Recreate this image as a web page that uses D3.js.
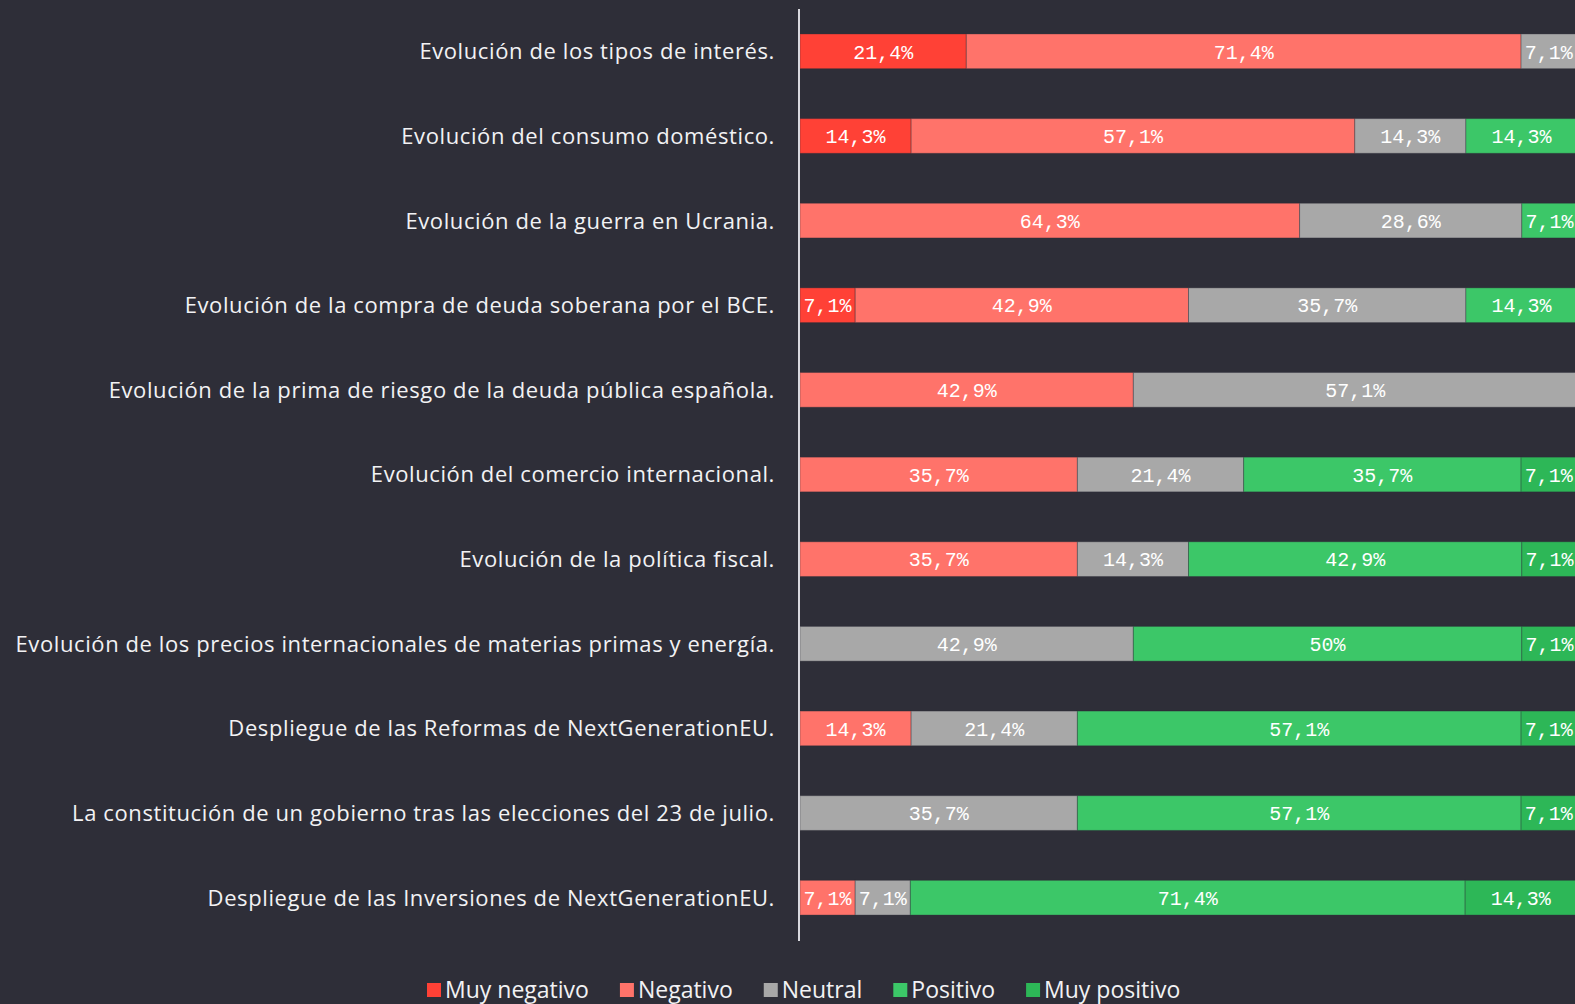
<!DOCTYPE html>
<html lang="es">
<head>
  <meta charset="UTF-8">
  <title>Factores</title>
  <script src="https://d3js.org/d3.v7.min.js"></script>
  <style>
    html, body { margin: 0; padding: 0; background: #2e2e38; overflow: hidden; }
    svg { display: block; }
    .cat { font-family: "Open Sans", sans-serif; font-size: 22px; letter-spacing: 0.6px; fill: #f2f2f4; }
    .val { font-family: "Liberation Mono", monospace; font-size: 20px; fill: #ffffff; }
    .leg { font-family: "Open Sans", sans-serif; font-size: 23px; fill: #f2f2f4; }
  </style>
</head>
<body>
<div id="chart"></div>
<script>
  // categorias y series (% de respuestas)
  var categories = [
    "Evolución de los tipos de interés.",
    "Evolución del consumo doméstico.",
    "Evolución de la guerra en Ucrania.",
    "Evolución de la compra de deuda soberana por el BCE.",
    "Evolución de la prima de riesgo de la deuda pública española.",
    "Evolución del comercio internacional.",
    "Evolución de la política fiscal.",
    "Evolución de los precios internacionales de materias primas y energía.",
    "Despliegue de las Reformas de NextGenerationEU.",
    "La constitución de un gobierno tras las elecciones del 23 de julio.",
    "Despliegue de las Inversiones de NextGenerationEU."
  ];
  var seriesNames = ["Muy negativo", "Negativo", "Neutral", "Positivo", "Muy positivo"];
  var muyNegativo = [21.4, 14.3, 0, 7.1, 0, 0, 0, 0, 0, 0, 0];
  var negativo    = [71.4, 57.1, 64.3, 42.9, 42.9, 35.7, 35.7, 0, 14.3, 0, 7.1];
  var neutral     = [7.1, 14.3, 28.6, 35.7, 57.1, 21.4, 14.3, 42.9, 21.4, 35.7, 7.1];
  var positivo    = [0, 14.3, 7.1, 14.3, 0, 35.7, 42.9, 50, 57.1, 57.1, 71.4];
  var muyPositivo = [0, 0, 0, 0, 0, 7.1, 7.1, 7.1, 7.1, 7.1, 14.3];
  var colors = ["#ff4136", "#ff736a", "#a8a8a8", "#3cc768", "#2db757"];

  var W = 1575, H = 1004;
  var x0 = 800, x1 = 1577;

  var svg = d3.select("#chart").append("svg")
    .attr("width", W)
    .attr("height", H);

  var rows = categories.map(function (c, i) {
    return { cat: c, muyNegativo: muyNegativo[i], negativo: negativo[i], neutral: neutral[i], positivo: positivo[i], muyPositivo: muyPositivo[i] };
  });
  var keys = ["muyNegativo", "negativo", "neutral", "positivo", "muyPositivo"];
  var stacked = d3.stack().keys(keys)(rows);

  var x = d3.scaleLinear().domain([0, 100]).range([x0, x1]);
  var y = d3.scaleBand().domain(categories).range([9, 940]).paddingInner(0.59).paddingOuter(0.295);
  var color = d3.scaleOrdinal().domain(keys).range(colors);

  // barras
  var layers = svg.selectAll("g.layer")
    .data(stacked)
    .enter().append("g")
    .attr("class", "layer")
    .attr("fill", d => color(d.key));

  layers.selectAll("rect")
    .data(d => d.filter(s => s[1] - s[0] > 0))
    .enter().append("rect")
    .attr("x", d => x(d[0]))
    .attr("y", d => y(d.data.cat))
    .attr("width", d => x(d[1]) - x(d[0]))
    .attr("height", y.bandwidth())
    .attr("stroke", "#2e2e38")
    .attr("stroke-opacity", 0.35)
    .attr("stroke-width", 1);

  // etiquetas de valor
  layers.selectAll("text")
    .data(d => d.filter(s => s[1] - s[0] > 0))
    .enter().append("text")
    .attr("class", "val")
    .attr("x", d => (x(d[0]) + x(d[1])) / 2)
    .attr("y", d => y(d.data.cat) + y.bandwidth() / 2)
    .attr("dy", "0.36em")
    .attr("text-anchor", "middle")
    .text(d => String(+(d[1] - d[0]).toFixed(1)).replace(".", ",") + "%");

  // categorias
  svg.selectAll("text.cat")
    .data(categories)
    .enter().append("text")
    .attr("class", "cat")
    .attr("x", 775)
    .attr("y", d => y(d) + y.bandwidth() / 2)
    .attr("dy", "0.36em")
    .attr("text-anchor", "end")
    .text(d => d);

  // eje
  svg.append("line")
    .attr("x1", 799).attr("x2", 799)
    .attr("y1", 9).attr("y2", 941)
    .attr("stroke", "#d8d8de")
    .attr("stroke-width", 2);

  // leyenda
  var lx = 427;
  seriesNames.forEach(function (name, i) {
    var g = svg.append("g").attr("transform", "translate(" + lx + ",0)");
    g.append("rect").attr("x", 0).attr("y", 983).attr("width", 14).attr("height", 14).attr("fill", colors[i]);
    var t = g.append("text").attr("class", "leg").attr("x", 18).attr("y", 998).text(name);
    lx += 18 + t.node().getComputedTextLength() + 31;
  });
</script>
</body>
</html>
